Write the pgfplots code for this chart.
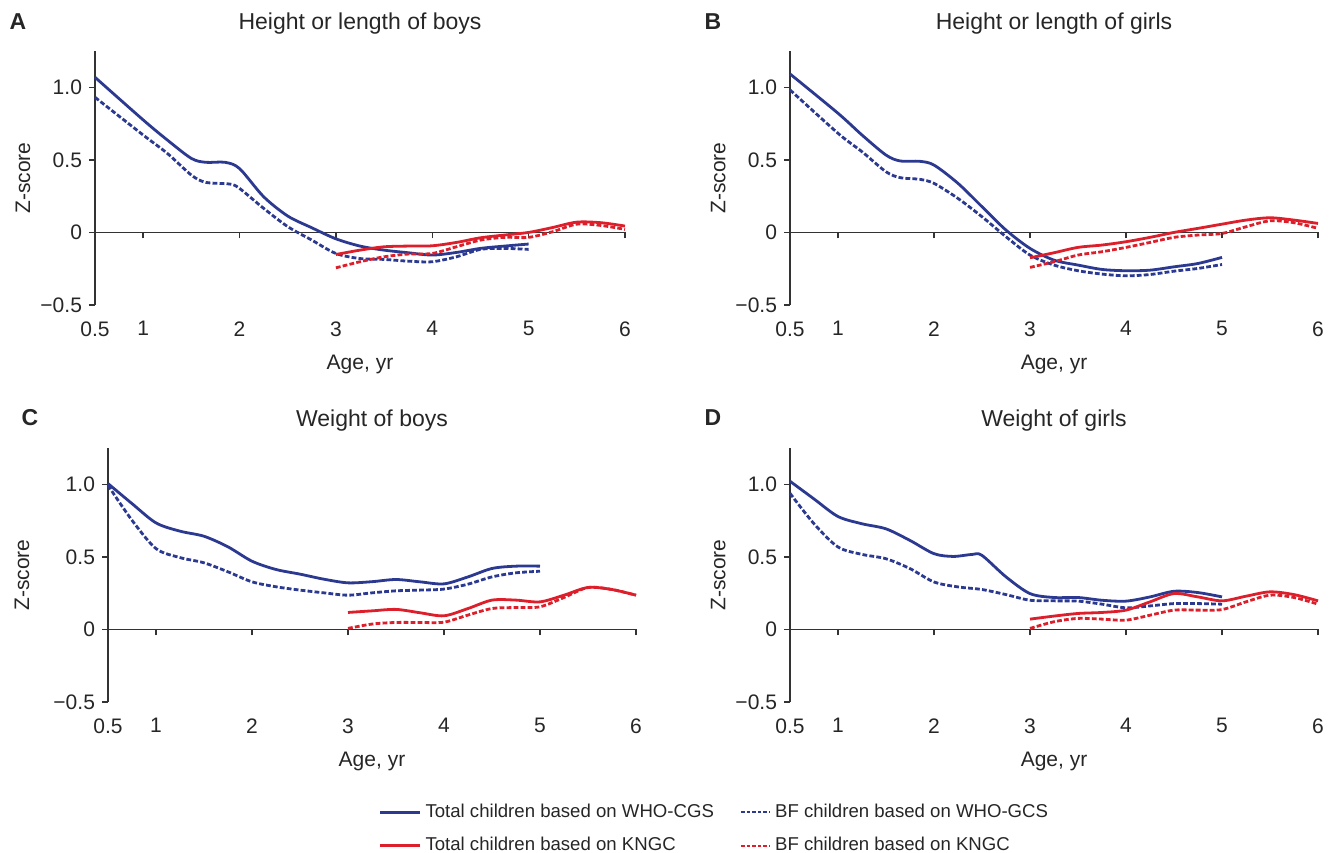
\documentclass[border=0pt]{standalone}
\usepackage{pgfplots}
\pgfplotsset{compat=1.18}
\usepackage{fontspec}
\setmainfont{Liberation Sans}
\definecolor{cblue}{HTML}{2B3990}
\definecolor{cred}{HTML}{DC1F2A}
\definecolor{axgray}{HTML}{333333}

\pgfplotsset{
 panel/.style={
  scale only axis, width=264pt, height=127pt,
  xmin=0.5, xmax=6, ymin=-0.5, ymax=1.25,
  axis x line=middle, axis y line=left,
  axis line style={axgray, line width=0.75pt, -},
  x axis line style={-}, y axis line style={-},
  xtick={0.5,1,2,3,4,5,6}, xticklabels={0.5,1,2,3,4,5,6},
  ytick={-0.5,0,0.5,1}, yticklabels={−0.5,0,0.5,1.0},
  tick style={axgray, line width=0.75pt},
  major tick length=3pt,
  tick align=outside,
  hide obscured x ticks=false, hide obscured y ticks=false,
  ticklabel style={font=\fontsize{10.5}{12}\selectfont, text=black!85},
  xticklabel style={yshift=-38pt},
  title style={at={(0.5,1)}, anchor=center, yshift=7.5pt, font=\fontsize{11.5}{13}\selectfont, text=black!85},
  xlabel={Age, yr}, ylabel={Z-score},
  xlabel style={at={(0.5,0)}, anchor=center, yshift=-29.5pt, font=\fontsize{10.5}{12}\selectfont, text=black!85},
  ylabel style={at={(-0.136,0.5)}, anchor=center, font=\fontsize{10.5}{12}\selectfont, text=black!85},
  clip=false,
 },
 tot/.style={smooth, line width=1.4pt, mark=none},
 bf/.style={smooth, line width=1.4pt, dash pattern=on 2.4pt off 1.1pt, mark=none},
 leglong/.style={legend image code/.code={\draw[##1,sharp plot] (0pt,0pt) -- (20pt,0pt);}},
 legshort/.style={legend image code/.code={\draw[##1,sharp plot,line width=1.1pt,dash pattern=on 1.8pt off 1pt] (0pt,0pt) -- (14.5pt,0pt);}},
}

\begin{document}
\begin{tikzpicture}
\useasboundingbox (0,0) rectangle (668pt,426pt);

% ---------------- A ----------------
\begin{axis}[panel, width=265pt, at={(47.5pt,273.5pt)}, anchor=south west, title={Height or length of boys}]
\addplot[tot, cblue] coordinates {(0.5,1.069)(1,0.775)(1.25,0.637)(1.5,0.51)(1.65,0.483)(1.85,0.483)(2,0.44)(2.25,0.246)(2.5,0.113)(2.75,0.032)(3,-0.044)(3.25,-0.094)(3.5,-0.122)(3.75,-0.14)(4,-0.156)(4.25,-0.138)(4.5,-0.11)(4.75,-0.094)(5,-0.08)};
\addplot[bf, cblue] coordinates {(0.5,0.931)(1,0.671)(1.25,0.545)(1.5,0.395)(1.65,0.345)(1.9,0.333)(2,0.303)(2.25,0.166)(2.5,0.04)(2.75,-0.053)(3,-0.145)(3.25,-0.18)(3.5,-0.186)(3.75,-0.198)(4,-0.202)(4.25,-0.168)(4.5,-0.117)(4.75,-0.11)(5,-0.117)};
\addplot[tot, cred] coordinates {(3,-0.152)(3.25,-0.122)(3.5,-0.099)(3.75,-0.094)(4,-0.092)(4.25,-0.069)(4.5,-0.037)(4.75,-0.018)(5,0)(5.25,0.034)(5.5,0.071)(5.75,0.067)(6,0.044)};
\addplot[bf, cred] coordinates {(3,-0.244)(3.25,-0.202)(3.5,-0.168)(3.75,-0.149)(4,-0.145)(4.25,-0.099)(4.5,-0.053)(4.75,-0.034)(5,-0.034)(5.25,0.005)(5.5,0.057)(5.75,0.048)(6,0.021)};
\end{axis}

% ---------------- B ----------------
\begin{axis}[panel, at={(395pt,273.5pt)}, anchor=south west, title={Height or length of girls}]
\addplot[tot, cblue] coordinates {(0.5,1.092)(1,0.821)(1.25,0.671)(1.5,0.533)(1.65,0.492)(1.85,0.49)(2,0.464)(2.25,0.338)(2.5,0.177)(2.75,0.016)(3,-0.11)(3.25,-0.191)(3.5,-0.225)(3.75,-0.255)(4,-0.264)(4.25,-0.26)(4.5,-0.237)(4.75,-0.214)(5,-0.172)};
\addplot[bf, cblue] coordinates {(0.5,0.982)(1,0.683)(1.25,0.556)(1.5,0.418)(1.65,0.377)(1.85,0.366)(2,0.338)(2.25,0.234)(2.5,0.108)(2.75,-0.03)(3,-0.156)(3.25,-0.225)(3.5,-0.264)(3.75,-0.287)(4,-0.299)(4.25,-0.29)(4.5,-0.267)(4.75,-0.248)(5,-0.221)};
\addplot[tot, cred] coordinates {(3,-0.175)(3.25,-0.14)(3.5,-0.103)(3.75,-0.087)(4,-0.064)(4.25,-0.034)(4.5,0)(4.75,0.028)(5,0.057)(5.25,0.085)(5.5,0.101)(5.75,0.085)(6,0.062)};
\addplot[bf, cred] coordinates {(3,-0.241)(3.25,-0.202)(3.5,-0.156)(3.75,-0.133)(4,-0.103)(4.25,-0.069)(4.5,-0.034)(4.75,-0.018)(5,-0.007)(5.25,0.039)(5.5,0.08)(5.75,0.067)(6,0.028)};
\end{axis}

% ---------------- C ----------------
\begin{axis}[panel, at={(54pt,75pt)}, anchor=south west, title={Weight of boys},
  ylabel style={at={(-0.163,0.5)}},
  legend columns=2,
  legend style={at={(0.512,-0.5)}, anchor=west, draw=none, fill=none, inner sep=0pt,
    font=\fontsize{9.3}{11}\selectfont, text=black!85,
    /tikz/every even column/.append style={column sep=11pt},
    row sep=4.5pt},
  legend cell align=left]
\addplot[tot, cblue, leglong] coordinates {(0.5,1.005)(0.75,0.867)(1,0.734)(1.25,0.677)(1.5,0.642)(1.75,0.569)(2,0.47)(2.25,0.413)(2.5,0.381)(2.75,0.346)(3,0.321)(3.25,0.329)(3.5,0.344)(3.75,0.328)(4,0.314)(4.25,0.362)(4.5,0.42)(4.75,0.436)(5,0.436)};
\addlegendentry{Total children based on WHO-CGS}
\addplot[bf, cblue, legshort] coordinates {(0.5,0.993)(0.75,0.752)(1,0.557)(1.25,0.495)(1.5,0.459)(1.75,0.397)(2,0.328)(2.25,0.294)(2.5,0.271)(2.75,0.252)(3,0.236)(3.25,0.252)(3.5,0.266)(3.75,0.271)(4,0.278)(4.25,0.312)(4.5,0.362)(4.75,0.39)(5,0.401)};
\addlegendentry{BF children based on WHO-GCS}
\addplot[tot, cred, leglong] coordinates {(3,0.117)(3.25,0.128)(3.5,0.138)(3.75,0.115)(4,0.094)(4.25,0.144)(4.5,0.202)(4.75,0.202)(5,0.19)(5.25,0.236)(5.5,0.289)(5.75,0.275)(6,0.236)};
\addlegendentry{Total children based on KNGC}
\addplot[bf, cred, legshort] coordinates {(3,0.007)(3.25,0.037)(3.5,0.048)(3.75,0.048)(4,0.05)(4.25,0.099)(4.5,0.144)(4.75,0.151)(5,0.156)(5.25,0.22)(5.5,0.289)(5.75,0.275)(6,0.236)};
\addlegendentry{BF children based on KNGC}
\end{axis}

% ---------------- D ----------------
\begin{axis}[panel, at={(395pt,75pt)}, anchor=south west, title={Weight of girls}]
\addplot[tot, cblue] coordinates {(0.5,1.021)(0.75,0.899)(1,0.778)(1.25,0.728)(1.5,0.693)(1.75,0.613)(2,0.522)(2.2,0.503)(2.4,0.517)(2.5,0.51)(2.75,0.362)(3,0.247)(3.25,0.22)(3.5,0.22)(3.75,0.201)(4,0.195)(4.25,0.224)(4.5,0.263)(4.75,0.254)(5,0.224)};
\addplot[bf, cblue] coordinates {(0.5,0.938)(0.75,0.728)(1,0.568)(1.25,0.517)(1.5,0.487)(1.75,0.419)(2,0.327)(2.25,0.293)(2.5,0.275)(2.75,0.24)(3,0.201)(3.25,0.197)(3.5,0.195)(3.75,0.174)(4,0.149)(4.25,0.162)(4.5,0.178)(4.75,0.178)(5,0.174)};
\addplot[tot, cred] coordinates {(3,0.071)(3.25,0.092)(3.5,0.11)(3.75,0.117)(4,0.133)(4.25,0.19)(4.5,0.247)(4.75,0.224)(5,0.197)(5.25,0.229)(5.5,0.259)(5.75,0.24)(6,0.197)};
\addplot[bf, cred] coordinates {(3,0.007)(3.25,0.053)(3.5,0.076)(3.75,0.071)(4,0.064)(4.25,0.098)(4.5,0.133)(4.75,0.133)(5,0.137)(5.25,0.19)(5.5,0.236)(5.75,0.22)(6,0.174)};
\end{axis}

\node[font=\bfseries\fontsize{11.5}{13}\selectfont, text=black!85] at (9pt,415pt) {A};
\node[font=\bfseries\fontsize{11.5}{13}\selectfont, text=black!85] at (356.5pt,415pt) {B};
\node[font=\bfseries\fontsize{11.5}{13}\selectfont, text=black!85] at (15pt,217pt) {C};
\node[font=\bfseries\fontsize{11.5}{13}\selectfont, text=black!85] at (356.5pt,217pt) {D};
\end{tikzpicture}
\end{document}
